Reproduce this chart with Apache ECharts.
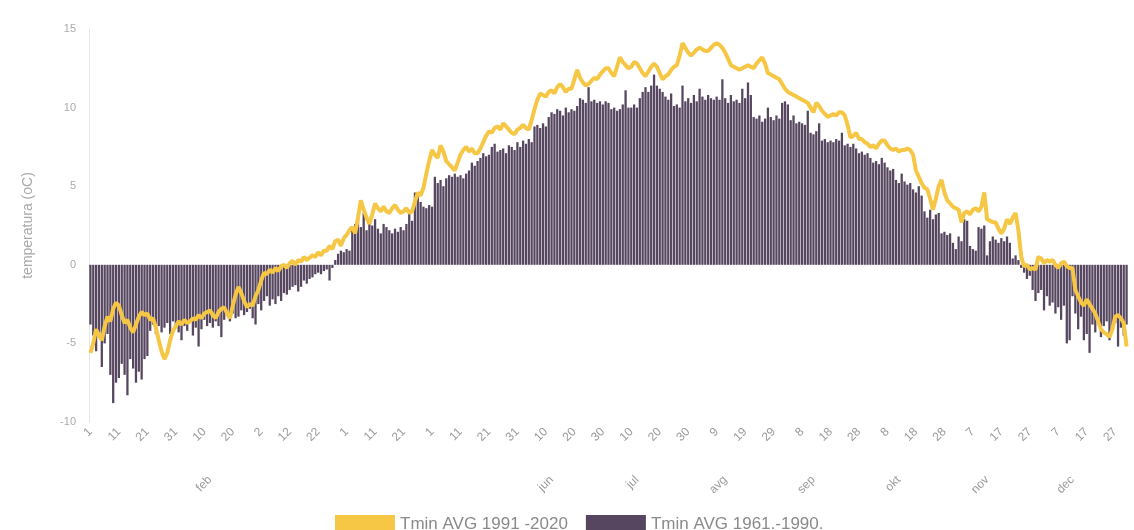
<!DOCTYPE html>
<html>
<head>
<meta charset="utf-8">
<script src="https://cdn.jsdelivr.net/npm/echarts@6/dist/echarts.min.js"></script>
<style>
html,body{margin:0;padding:0;background:#fff;}
#chart{width:1134px;height:530px;}
</style>
</head>
<body>
<div id="chart"></div>
<script>
// Month lengths (non-leap year) and Slovenian month names
const monthLengths = [31,28,31,30,31,30,31,31,30,31,30,31];
const monthNames = ['jan','feb','mar','apr','maj','jun','jul','avg','sep','okt','nov','dec'];
// month labels visible in the reference
const shownMonths = ['feb','jun','jul','avg','sep','okt','nov','dec'];

const seriesNames = ['Tmin AVG 1991 -2020', 'Tmin AVG 1961.-1990.'];

// Daily mean minimum temperature 1991-2020 (line), 365 days
const tmin19912020 = [
 -5.6,-5.0,-4.1,-4.5,-4.8,-3.9,-3.3,-3.6,-2.8,-2.4,
 -2.6,-3.2,-3.7,-3.5,-4.0,-4.3,-3.8,-3.3,-3.0,-3.2,
 -3.1,-3.5,-3.4,-4.0,-4.8,-5.5,-6.0,-5.6,-4.8,-4.2,
 -3.9,-3.6,-3.8,-3.5,-3.7,-3.6,-3.4,-3.5,-3.2,-3.4,
 -3.1,-3.0,-2.9,-3.2,-3.4,-3.0,-2.8,-2.7,-3.1,-3.4,
 -2.6,-1.9,-1.4,-1.8,-2.3,-2.7,-2.5,-2.6,-2.0,-1.6,
 -1.0,-0.5,-0.6,-0.3,-0.5,-0.2,-0.4,-0.1,0.0,-0.2,
 0.1,0.25,0.0,0.3,0.2,0.5,0.3,0.45,0.6,0.5,
 0.8,0.6,0.9,0.9,1.2,1.0,1.5,1.6,1.2,1.7,
 1.9,2.2,2.4,2.0,3.0,4.1,3.5,3.0,2.6,3.2,
 3.9,3.6,3.4,3.7,3.4,3.3,3.6,3.8,3.5,3.3,
 3.4,3.6,3.3,3.4,4.0,4.6,4.4,4.9,5.8,6.6,
 7.3,7.0,6.8,7.6,7.2,6.6,6.4,6.2,6.0,6.5,
 7.0,7.3,7.5,7.2,7.4,7.1,7.1,7.4,7.8,8.2,
 8.5,8.4,8.7,8.8,8.6,9.0,8.8,8.6,8.4,8.3,
 8.6,8.7,8.9,8.7,8.6,9.2,9.9,10.5,10.9,10.8,
 10.7,11.0,11.1,10.9,11.3,11.5,11.3,11.0,11.2,11.2,
 11.8,12.4,11.9,11.6,11.4,11.5,11.7,11.9,11.8,12.1,
 12.3,12.5,12.5,12.2,12.0,12.6,13.2,12.9,12.7,12.5,
 12.6,12.9,12.8,12.5,12.2,12.0,12.3,12.6,12.8,12.6,
 12.2,11.8,12.0,12.1,12.4,12.6,12.7,13.3,14.1,13.8,
 13.5,13.3,13.5,13.7,13.8,13.7,13.6,13.6,13.8,14.0,
 14.1,14.0,13.8,13.5,13.1,12.7,12.6,12.5,12.4,12.5,
 12.6,12.7,12.6,12.5,12.8,13.0,13.2,12.8,12.2,12.1,
 12.0,11.9,11.8,11.5,11.2,11.0,10.9,10.8,10.7,10.6,
 10.5,10.4,10.3,10.0,9.7,10.3,10.1,9.8,9.6,9.4,
 9.5,9.6,9.5,9.7,9.7,9.5,8.9,8.1,8.2,8.4,
 8.0,8.0,7.8,7.7,7.5,7.6,7.4,7.7,7.9,7.9,
 7.6,7.4,7.3,7.4,7.2,7.3,7.3,7.4,7.3,7.0,
 6.0,5.6,5.2,4.9,4.8,4.2,3.5,4.2,5.0,5.4,
 4.6,4.1,3.9,3.7,3.6,3.5,2.7,3.3,3.4,3.2,
 3.5,3.6,3.4,3.7,4.6,2.9,2.8,2.7,2.7,2.3,
 2.0,2.3,2.9,2.6,3.0,3.3,2.2,0.5,-0.1,0.0,
 -0.3,-0.2,-0.3,0.5,0.4,0.1,0.3,0.2,0.3,0.0,
 -0.2,0.1,0.2,-0.1,-0.2,-0.2,-1.6,-2.0,-2.4,-2.6,
 -2.2,-2.5,-2.8,-3.1,-3.6,-4.1,-4.3,-4.4,-4.6,-4.1,
 -3.3,-3.2,-3.4,-3.7,-5.2
];

// Daily mean minimum temperature 1961-1990 (bars), 365 days
const tmin19611990 = [
 -3.8,-4.5,-5.5,-4.3,-6.5,-5.0,-4.4,-7.0,-8.8,-7.5,
 -7.2,-6.3,-7.0,-8.3,-6.0,-6.6,-7.5,-6.8,-7.3,-6.0,
 -5.8,-4.2,-3.8,-4.4,-3.9,-4.3,-4.0,-3.7,-4.4,-3.6,
 -4.0,-4.3,-4.8,-3.9,-4.2,-3.6,-4.5,-4.0,-5.2,-4.1,
 -3.5,-3.9,-3.7,-4.0,-3.6,-3.9,-4.6,-3.5,-3.2,-3.6,
 -3.1,-3.4,-3.3,-2.9,-3.2,-3.0,-2.8,-3.4,-3.8,-2.5,
 -2.9,-2.3,-2.0,-2.6,-2.2,-2.5,-2.0,-2.3,-1.8,-1.9,
 -1.6,-1.4,-1.3,-1.7,-1.4,-1.0,-1.2,-0.9,-0.8,-0.6,
 -0.5,-0.6,-0.4,-0.3,-1.0,-0.2,0.3,0.7,0.9,0.8,
 1.0,0.9,2.2,2.6,2.9,2.4,3.3,2.2,2.8,2.5,
 2.9,2.3,2.0,2.6,2.4,2.2,2.0,2.3,2.1,2.4,
 2.2,2.6,3.5,2.8,4.6,4.4,4.0,3.7,3.6,3.8,
 3.7,5.6,5.2,5.4,5.0,5.5,5.7,5.6,5.8,5.6,
 5.7,5.5,5.8,6.0,6.5,6.3,6.6,6.8,7.1,6.9,
 7.0,7.5,7.7,7.2,7.3,7.4,7.1,7.6,7.5,7.3,
 7.8,7.5,7.9,7.7,8.0,7.8,8.8,8.9,8.7,9.0,
 8.8,9.4,9.7,9.6,9.9,9.8,9.5,10.0,9.7,9.9,
 9.8,10.1,10.6,10.5,10.3,11.3,10.4,10.5,10.3,10.4,
 10.2,10.4,10.3,9.9,10.0,9.8,9.9,10.2,11.1,10.0,
 10.0,10.2,10.0,10.6,11.0,11.3,11.0,11.4,12.1,11.4,
 11.2,11.0,10.7,10.5,10.9,10.1,10.2,10.0,11.4,10.4,
 10.6,10.3,10.8,10.4,11.2,10.7,10.5,10.8,10.6,10.5,
 10.7,10.5,11.8,10.6,10.3,10.8,10.4,10.5,10.3,11.2,
 10.6,11.6,10.8,9.4,9.3,9.5,9.1,9.3,10.0,9.4,
 9.2,9.5,9.3,10.3,10.4,10.2,9.2,9.5,9.0,9.1,
 9.0,8.9,9.8,8.4,8.3,8.5,9.0,7.9,8.0,7.8,
 7.9,7.8,8.0,7.9,8.4,7.6,7.7,7.5,7.7,7.4,
 7.1,7.2,7.0,7.1,6.8,6.5,6.6,6.4,6.8,6.5,
 6.2,6.0,6.1,5.4,5.2,5.8,5.3,5.1,5.2,4.8,
 4.6,5.0,4.4,3.4,3.0,3.5,2.9,3.2,3.3,2.0,
 2.1,1.9,2.0,1.4,1.0,1.8,1.5,2.9,2.8,1.2,
 1.0,0.9,2.4,2.3,2.5,0.6,1.5,1.8,1.6,1.4,
 1.7,1.5,1.8,1.4,0.4,0.6,0.3,-0.2,-0.5,-0.9,
 -0.7,-1.6,-2.3,-1.8,-1.6,-2.9,-2.0,-2.6,-2.4,-3.1,
 -2.7,-3.5,-2.6,-5.0,-4.8,-2.0,-3.1,-4.1,-3.3,-4.8,
 -4.4,-5.6,-3.8,-4.3,-3.5,-4.6,-3.9,-3.6,-4.8,-4.1,
 -3.7,-5.2,-4.0,-4.5,-3.8
];

// Build day-of-month categories and month-label positions
const dayCategories = [];
const monthLabelAt = {};
monthLengths.forEach((len, m) => {
  for (let d = 1; d <= len; d++) {
    if (d === 12 && shownMonths.indexOf(monthNames[m]) >= 0) monthLabelAt[dayCategories.length] = monthNames[m];
    dayCategories.push(String(d));
  }
});

const chart = echarts.init(document.getElementById('chart'));
const labelColor = '#9a9a9a';
chart.setOption({
  animation: false,
  backgroundColor: '#ffffff',
  textStyle: { fontFamily: 'Liberation Sans, Arial, sans-serif' },
  grid: { left: 89, right: 6, top: 29, bottom: 108, containLabel: false },
  legend: {
    bottom: -8,
    left: 330,
    itemWidth: 60,
    itemHeight: 18,
    itemGap: 18,
    icon: 'rect',
    textStyle: { color: '#8a8a8a', fontSize: 17 },
    data: seriesNames
  },
  xAxis: [
    {
      type: 'category',
      data: dayCategories,
      axisLine: { onZero: false, show: false },
      axisTick: { show: false },
      axisLabel: { interval: 9, rotate: 45, color: labelColor, fontSize: 12, margin: 8 }
    },
    {
      type: 'category',
      data: dayCategories,
      position: 'bottom',
      offset: 48,
      axisLine: { show: false },
      axisTick: { show: false },
      axisLabel: {
        interval: 0, rotate: 45, color: labelColor, fontSize: 12,
        formatter: (v, i) => monthLabelAt[i] || ''
      }
    }
  ],
  yAxis: {
    type: 'value',
    min: -10, max: 15, interval: 5,
    name: 'temperatura (oC)',
    nameLocation: 'middle',
    nameGap: 54,
    nameTextStyle: { color: '#a8a8a8', fontSize: 14 },
    axisLine: { show: true, lineStyle: { color: '#e6e6e6' } },
    axisTick: { show: false },
    splitLine: { show: false },
    axisLabel: { color: '#aaaaaa', fontSize: 11, margin: 13 }
  },
  series: [
    {
      name: seriesNames[0],
      type: 'line',
      data: tmin19912020,
      symbol: 'none',
      z: 5,
      lineStyle: { color: '#f6c744', width: 4 },
      itemStyle: { color: '#f6c744' }
    },
    {
      name: seriesNames[1],
      type: 'bar',
      data: tmin19611990,
      barCategoryGap: '20%',
      z: 2,
      itemStyle: { color: '#56465f' }
    }
  ]
});
</script>
</body>
</html>
